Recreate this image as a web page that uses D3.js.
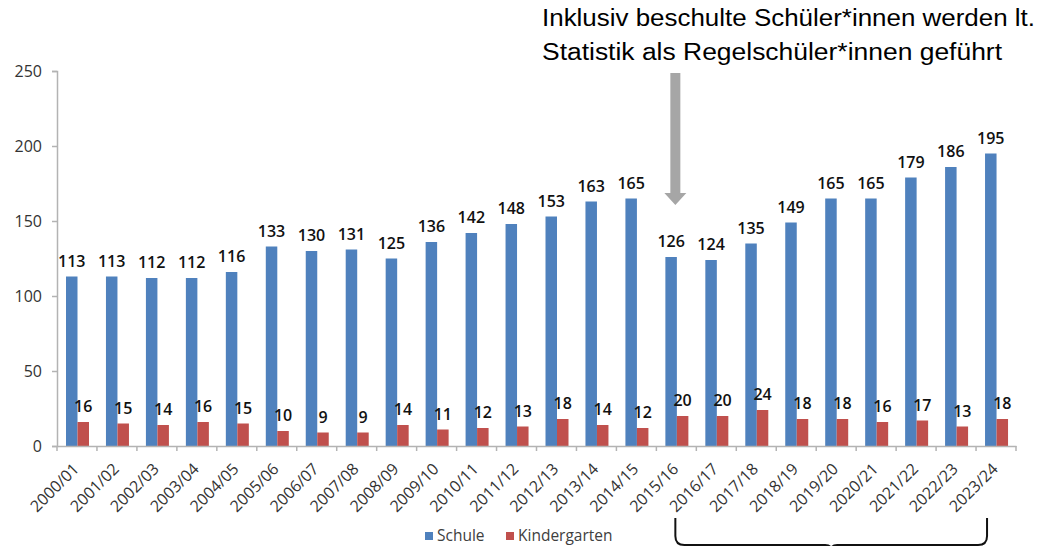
<!DOCTYPE html>
<html>
<head>
<meta charset="utf-8">
<script src="https://cdn.jsdelivr.net/npm/d3@7"></script>
<style>
  html, body { margin: 0; padding: 0; background: #ffffff; }
  svg { display: block; }
</style>
</head>
<body>
<svg id="chart" width="1046" height="546"></svg>
<script>
const categories = ["2000/01","2001/02","2002/03","2003/04","2004/05","2005/06","2006/07","2007/08","2008/09","2009/10","2010/11","2011/12","2012/13","2013/14","2014/15","2015/16","2016/17","2017/18","2018/19","2019/20","2020/21","2021/22","2022/23","2023/24"];
const schule = [113,113,112,112,116,133,130,131,125,136,142,148,153,163,165,126,124,135,149,165,165,179,186,195];
const kindergarten = [16,15,14,16,15,10,9,9,14,11,12,13,18,14,12,20,20,24,18,18,16,17,13,18];
const seriesNames = ["Schule","Kindergarten"];
const seriesColors = ["#4f81bd","#c0504d"];
const yTicks = [0,50,100,150,200,250];
const annotationLines = ["Inklusiv beschulte Schüler*innen werden lt.","Statistik als Regelschüler*innen geführt"];
const annotationWidths = [493, 460];
const arrowCategory = "2015/16";
const bracketRange = ["2015/16","2023/24"];

(function () {
const svg = d3.select("#chart");
const pLeft = 57, pRight = 1016, pTop = 71, pBottom = 446;
const labelFont = "'Open Sans', 'Noto Sans', sans-serif";

const x0 = d3.scaleBand().domain(categories).range([pLeft, pRight]).padding(0);
const x1 = d3.scaleBand().domain(seriesNames).range([9, 32]).padding(0);
const y = d3.scaleLinear().domain([0, 250]).range([pBottom, pTop]);

const data = categories.map((c, i) => ({cat: c, values: [
  {name: seriesNames[0], v: schule[i]},
  {name: seriesNames[1], v: kindergarten[i]}
]}));

const g = svg.append("g");
const groups = g.selectAll("g.grp").data(data).join("g")
  .attr("class","grp")
  .attr("transform", d => `translate(${x0(d.cat)},0)`);
groups.selectAll("rect").data(d => d.values).join("rect")
  .attr("x", d => x1(d.name))
  .attr("width", x1.bandwidth())
  .attr("y", d => y(d.v))
  .attr("height", d => y(0) - y(d.v))
  .attr("fill", (d, i) => seriesColors[i]);
groups.selectAll("text").data(d => d.values).join("text")
  .attr("x", d => x1(d.name) + x1.bandwidth() / 2)
  .attr("y", d => y(d.v) - 10)
  .attr("text-anchor", "middle")
  .attr("font-family", labelFont)
  .attr("font-size", 16)
  .attr("font-weight", 600)
  .attr("fill", "#111")
  .text(d => d.v);

const yAxis = svg.append("g").attr("transform", `translate(${pLeft},0)`)
  .call(d3.axisLeft(y).tickValues(yTicks).tickSize(5).tickPadding(10));
yAxis.select(".domain").attr("stroke", "#b3b3b3").attr("stroke-width", 1.5);
yAxis.selectAll(".tick line").attr("stroke", "#b3b3b3").attr("stroke-width", 1.5);
yAxis.selectAll(".tick text").attr("font-family", labelFont).attr("font-size", 16).attr("fill", "#333");

const xAxis = svg.append("g").attr("transform", `translate(0,${pBottom})`)
  .call(d3.axisBottom(x0).tickSize(0).tickPadding(0));
xAxis.select(".domain").attr("stroke", "#b3b3b3").attr("stroke-width", 1.5);
xAxis.selectAll(".tick text")
  .attr("font-family", labelFont).attr("font-size", 16).attr("fill", "#333")
  .attr("text-anchor", "end")
  .attr("transform", "translate(3,24) rotate(-45)")
  .attr("dy", 0)
  .attr("y", 0);
const bounds = categories.map(c => x0(c)).concat([x0.range()[1]]);
svg.append("g").selectAll("line").data(bounds).join("line")
  .attr("x1", d => d).attr("x2", d => d)
  .attr("y1", pBottom).attr("y2", pBottom + 5)
  .attr("stroke", "#b3b3b3").attr("stroke-width", 1.5);

const legend = svg.append("g");
const legX = [425, 506];
seriesNames.forEach((n, i) => {
  legend.append("rect").attr("x", legX[i]).attr("y", 532).attr("width", 8).attr("height", 8).attr("fill", seriesColors[i]);
  legend.append("text").attr("x", legX[i] + 12).attr("y", 541)
    .attr("font-family", labelFont).attr("font-size", 15.5).attr("fill", "#404040").text(n);
});

const ann = svg.append("g");
annotationLines.forEach((t, i) => {
  ann.append("text").attr("x", 542).attr("y", 26 + i * 33.5)
    .attr("font-family", "'Liberation Sans', Arial, sans-serif").attr("font-size", 23.5)
    .attr("textLength", annotationWidths[i]).attr("lengthAdjust", "spacingAndGlyphs")
    .attr("fill", "#000").text(t);
});

const ax = x0(arrowCategory) + x0.bandwidth() / 2 - 1;
svg.append("path")
  .attr("d", `M${ax-5},73 L${ax+5},73 L${ax+5},193 L${ax+11},193 L${ax},205 L${ax-11},193 L${ax-5},193 Z`)
  .attr("fill", "#a6a6a6");

const bx1 = x0(bracketRange[0]) + x0.bandwidth() / 2 - 1;
const bx2 = x0(bracketRange[1]) + 11;
const mid = (bx1 + bx2) / 2;
svg.append("path")
  .attr("d", `M${bx1},518 L${bx1},536 Q${bx1},545 ${bx1+9},545 L${mid-6},545 Q${mid},545 ${mid},550 M${mid},550 Q${mid},545 ${mid+6},545 L${bx2-9},545 Q${bx2},545 ${bx2},536 L${bx2},518`)
  .attr("fill", "none").attr("stroke", "#111").attr("stroke-width", 2);
})();
</script>
</body>
</html>
